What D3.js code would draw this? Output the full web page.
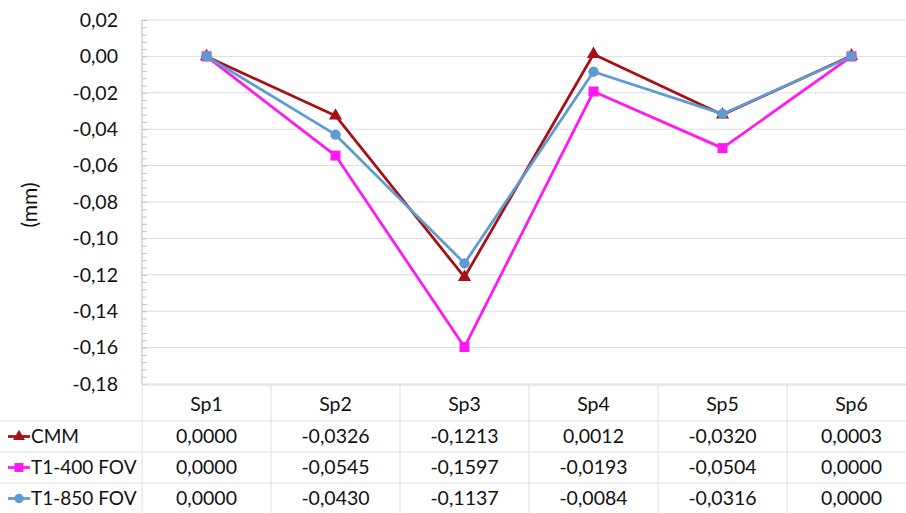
<!DOCTYPE html>
<html>
<head>
<meta charset="utf-8">
<script src="https://cdn.jsdelivr.net/npm/d3@7"></script>
<style>
  body { margin: 0; background: #fff; }
  svg { display: block; font-family: Lato, "Open Sans", sans-serif; }
</style>
</head>
<body>
<div id="chart"></div>
<script>
const categories = ["Sp1", "Sp2", "Sp3", "Sp4", "Sp5", "Sp6"];
const seriesNames = ["CMM", "T1-400 FOV", "T1-850 FOV"];
const cmm = [0.0000, -0.0326, -0.1213, 0.0012, -0.0320, 0.0003];
const t400 = [0.0000, -0.0545, -0.1597, -0.0193, -0.0504, 0.0000];
const t850 = [0.0000, -0.0430, -0.1137, -0.0084, -0.0316, 0.0000];
const yTicks = [0.02, 0, -0.02, -0.04, -0.06, -0.08, -0.10, -0.12, -0.14, -0.16, -0.18];

const width = 906, height = 513;
const plotLeft = 142, plotTop = 20, plotBottom = 384, plotRight = 916;
const headH = 36, rowH = 31;
const textColor = "#111";
const fs = 19.5;

const locale = d3.formatLocale({ decimal: ",", thousands: ".", grouping: [3], currency: ["", ""], minus: "-" });
const f2 = locale.format(".2f");
const f4 = locale.format(".4f");

const series = [
  { name: seriesNames[0], values: cmm, color: "#A80F14", shape: d3.symbolTriangle, size: 75 },
  { name: seriesNames[1], values: t400, color: "#FF18F0", shape: d3.symbolSquare, size: 100 },
  { name: seriesNames[2], values: t850, color: "#5E9BD0", shape: d3.symbolCircle, size: 85 }
];

const svg = d3.select("#chart").append("svg")
    .attr("width", width)
    .attr("height", height);

const x = d3.scaleBand().domain(categories).range([plotLeft, plotRight]);
const y = d3.scaleLinear().domain([-0.18, 0.02]).range([plotBottom, plotTop]);

// gridlines
svg.append("g").selectAll("line")
    .data(yTicks)
    .enter().append("line")
    .attr("x1", plotLeft).attr("x2", width)
    .attr("y1", d => y(d)).attr("y2", d => y(d))
    .attr("stroke", "#dcdcdc")
    .attr("stroke-width", 1);

// y axis with minor ticks inside
const yAxis = d3.axisRight(y)
    .tickValues(d3.range(0, 51).map(i => -0.18 + i * 0.004))
    .tickSize(5)
    .tickFormat("");
const ax = svg.append("g")
    .attr("transform", "translate(" + plotLeft + ",0)")
    .call(yAxis);
ax.select(".domain").remove();
ax.selectAll("line").attr("stroke", "#b5c6d3");
svg.append("line")
    .attr("x1", plotLeft).attr("x2", plotLeft)
    .attr("y1", plotTop).attr("y2", plotBottom)
    .attr("stroke", "#aabdcc");

// tick labels
svg.append("g").selectAll("text")
    .data(yTicks)
    .enter().append("text")
    .attr("x", 118)
    .attr("y", d => y(d))
    .attr("dy", "0.35em")
    .attr("text-anchor", "end")
    .attr("font-size", fs)
    .attr("fill", textColor)
    .text(d => f2(d));

svg.append("text")
    .attr("transform", "translate(37,205) rotate(-90)")
    .attr("text-anchor", "middle")
    .attr("font-size", 21)
    .attr("fill", textColor)
    .text("(mm)");

// series lines and markers
const line = d3.line()
    .x((d, i) => x(categories[i]) + x.bandwidth() / 2)
    .y(d => y(d));

series.forEach(s => {
    const g = svg.append("g");
    g.append("path")
        .attr("d", line(s.values))
        .attr("fill", "none")
        .attr("stroke", s.color)
        .attr("stroke-width", 2.75)
        .attr("stroke-linejoin", "round");
    g.selectAll("path.m")
        .data(s.values)
        .enter().append("path")
        .attr("class", "m")
        .attr("transform", (d, i) => "translate(" + (x(categories[i]) + x.bandwidth() / 2) + "," + y(d) + ")")
        .attr("d", d3.symbol().type(s.shape).size(s.size))
        .attr("fill", s.color);
});

// data table
const tTop = plotBottom + 1;
const tableLines = svg.append("g").attr("stroke", "#dedede").attr("stroke-width", 1);
tableLines.append("line")
    .attr("x1", plotLeft).attr("x2", width)
    .attr("y1", tTop).attr("y2", tTop);
series.forEach((s, i) => {
    const yy = tTop + headH + i * rowH;
    tableLines.append("line")
        .attr("x1", 0).attr("x2", width)
        .attr("y1", yy).attr("y2", yy);
});
tableLines.selectAll("line.v")
    .data(categories)
    .enter().append("line")
    .attr("class", "v")
    .attr("x1", d => x(d)).attr("x2", d => x(d))
    .attr("y1", tTop).attr("y2", height);

svg.append("g").selectAll("text")
    .data(categories)
    .enter().append("text")
    .attr("x", d => x(d) + x.bandwidth() / 2)
    .attr("y", tTop + headH / 2 + 1)
    .attr("dy", "0.35em")
    .attr("text-anchor", "middle")
    .attr("font-size", fs)
    .attr("fill", textColor)
    .text(d => d);

series.forEach((s, i) => {
    const cy = tTop + headH + i * rowH + rowH / 2;
    const row = svg.append("g");
    row.append("line")
        .attr("x1", 8).attr("x2", 30)
        .attr("y1", cy).attr("y2", cy)
        .attr("stroke", s.color)
        .attr("stroke-width", 2.75);
    row.append("path")
        .attr("transform", "translate(19," + cy + ")")
        .attr("d", d3.symbol().type(s.shape).size(s.size * 0.8))
        .attr("fill", s.color);
    row.append("text")
        .attr("x", 31)
        .attr("y", cy)
        .attr("dy", "0.35em")
        .attr("font-size", 19)
        .attr("fill", textColor)
        .text(s.name);
    row.selectAll("text.v")
        .data(s.values)
        .enter().append("text")
        .attr("class", "v")
        .attr("x", (d, j) => x(categories[j]) + x.bandwidth() / 2)
        .attr("y", cy)
        .attr("dy", "0.35em")
        .attr("text-anchor", "middle")
        .attr("font-size", fs)
        .attr("fill", textColor)
        .text(d => f4(d));
});
</script>
</body>
</html>
